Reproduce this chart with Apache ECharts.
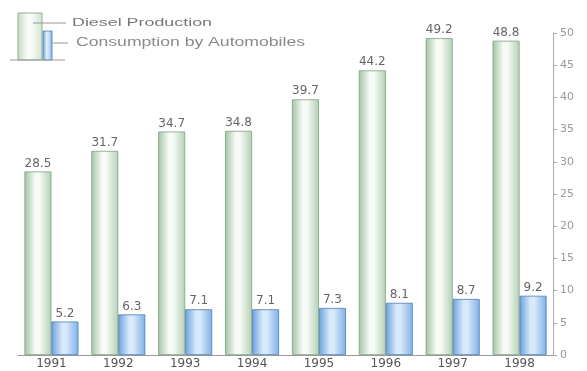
<!DOCTYPE html>
<html>
<head>
<meta charset="utf-8">
<script src="https://cdn.jsdelivr.net/npm/echarts@6/dist/echarts.min.js"></script>
<style>html,body{margin:0;padding:0;background:#fff}#c{width:587px;height:371px}</style>
</head>
<body>
<div id="c"></div>
<script>
// Diesel figures per year
const years = ['1991', '1992', '1993', '1994', '1995', '1996', '1997', '1998'];
const dieselProduction = [28.5, 31.7, 34.7, 34.8, 39.7, 44.2, 49.2, 48.8];
const consumptionByAutomobiles = [5.2, 6.3, 7.1, 7.1, 7.3, 8.1, 8.7, 9.2];
const yTicks = [0, 5, 10, 15, 20, 25, 30, 35, 40, 45, 50];
const legendNames = ['Diesel Production', 'Consumption by Automobiles'];

const wide = '"DejaVu Sans", Verdana, sans-serif';
const plain = '"Liberation Sans", Arial, sans-serif';

function cylinder(left, mid, right) {
  return new echarts.graphic.LinearGradient(0, 0, 1, 0, [
    { offset: 0, color: left },
    { offset: 0.4, color: mid },
    { offset: 0.55, color: mid },
    { offset: 1, color: right }
  ]);
}

// horizontal stretch factor so a legend caption spans the wanted width
function stretch(text, font, width) {
  const ctx = document.createElement('canvas').getContext('2d');
  ctx.font = font;
  return width / ctx.measureText(text).width;
}

const f1 = '10px ' + plain;
const f2 = '12px ' + plain;

const chart = echarts.init(document.getElementById('c'), null, { renderer: 'canvas' });
chart.setOption({
  backgroundColor: '#ffffff',
  animation: false,
  grid: { left: 18, right: 34, top: 33, bottom: 16 },
  xAxis: {
    type: 'category',
    data: years,
    axisLine: { show: true, lineStyle: { color: '#999', width: 1 } },
    axisTick: { show: false },
    axisLabel: { color: '#555', fontFamily: wide, fontSize: 12, margin: 3 }
  },
  yAxis: {
    type: 'value',
    position: 'right',
    min: yTicks[0],
    max: yTicks[yTicks.length - 1],
    interval: 5,
    splitLine: { show: false },
    axisLine: { show: true, lineStyle: { color: '#aaa' } },
    axisTick: { show: true, length: 4, lineStyle: { color: '#aaa' } },
    axisLabel: { color: '#999', fontFamily: wide, fontSize: 11, margin: 7 }
  },
  series: [
    {
      name: legendNames[0],
      type: 'bar',
      data: dieselProduction,
      barWidth: 27,
      barGap: '0%',
      itemStyle: { color: cylinder('#a2c4a4', '#f7fbf7', '#b3d0b4'), borderColor: '#7f9f82', borderWidth: 0.8 },
      label: { show: true, position: 'top', distance: 2, color: '#666', fontFamily: wide, fontSize: 12 }
    },
    {
      name: legendNames[1],
      type: 'bar',
      data: consumptionByAutomobiles,
      barWidth: 27,
      itemStyle: { color: cylinder('#6aa0dc', '#d8e9fa', '#7eb0e6'), borderColor: '#4a7db8', borderWidth: 0.8 },
      label: { show: true, position: 'top', distance: 2, color: '#666', fontFamily: wide, fontSize: 12 }
    }
  ],
  graphic: [
    { type: 'rect', shape: { x: 18, y: 13, width: 24, height: 47 },
      style: { fill: cylinder('#c4dcc5', '#f8fcf8', '#d0e4d0'), stroke: '#7f9f82', lineWidth: 0.8 } },
    { type: 'rect', shape: { x: 43, y: 31, width: 9, height: 29 },
      style: { fill: cylinder('#6aa0dc', '#d8e9fa', '#7eb0e6'), stroke: '#4a7db8', lineWidth: 0.8 } },
    { type: 'line', shape: { x1: 10, y1: 60, x2: 65, y2: 60 }, style: { stroke: '#999', lineWidth: 1 } },
    { type: 'line', shape: { x1: 33, y1: 23, x2: 66, y2: 23 }, style: { stroke: '#999', lineWidth: 1 } },
    { type: 'line', shape: { x1: 52, y1: 43, x2: 68, y2: 43 }, style: { stroke: '#999', lineWidth: 1 } },
    { type: 'text', x: 72, y: 23, scaleX: stretch(legendNames[0], f1, 140),
      style: { text: legendNames[0], fill: '#777', font: f1, textVerticalAlign: 'middle', verticalAlign: 'middle' } },
    { type: 'text', x: 76, y: 43, scaleX: stretch(legendNames[1], f2, 229),
      style: { text: legendNames[1], fill: '#8a8a8a', font: f2, textVerticalAlign: 'middle', verticalAlign: 'middle' } }
  ]
});
</script>
</body>
</html>
